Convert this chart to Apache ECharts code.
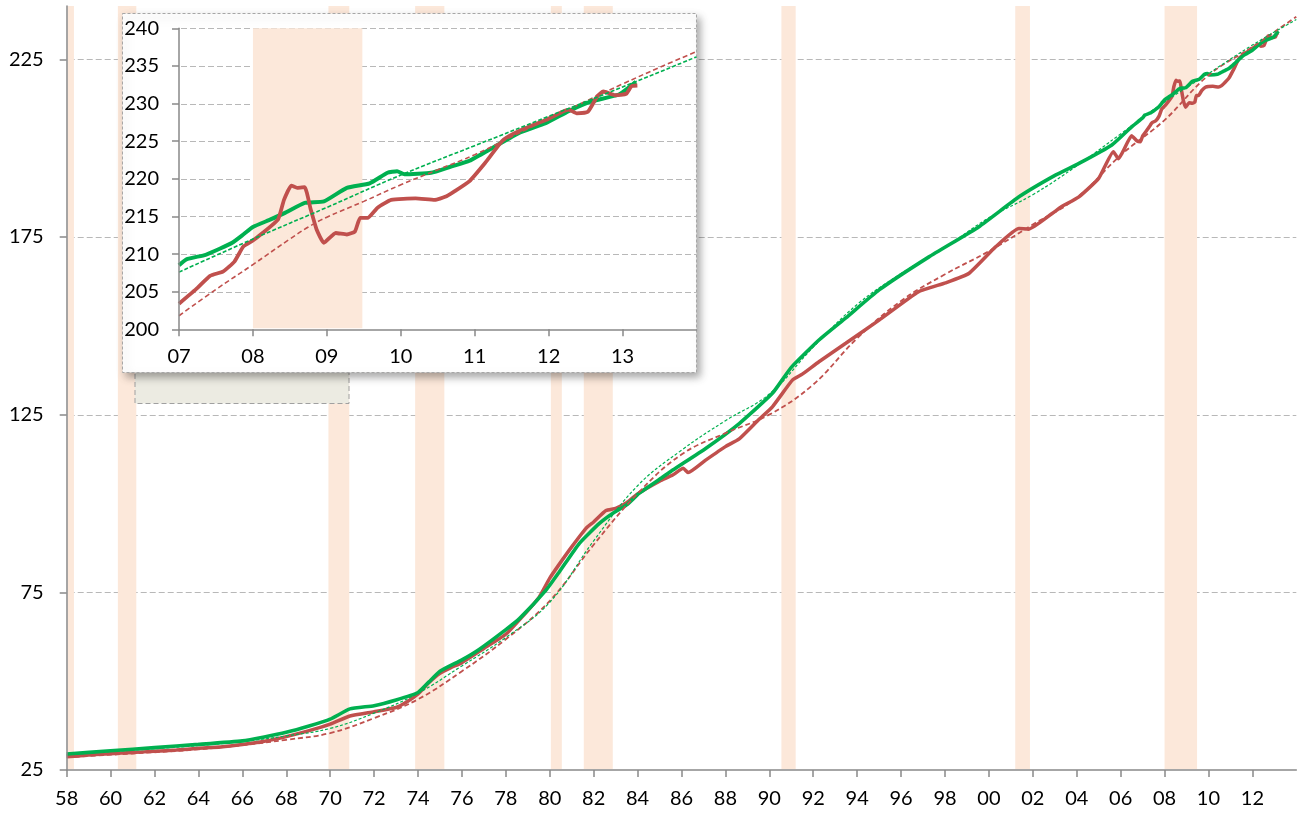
<!DOCTYPE html>
<html>
<head>
<meta charset="utf-8">
<title>CPI and core CPI</title>
<script src="https://cdn.jsdelivr.net/npm/echarts@6/dist/echarts.min.js"></script>
<style>
  html, body { margin: 0; padding: 0; background: #ffffff; }
  #chart { width: 1308px; height: 814px; }
</style>
</head>
<body>
<div id="chart"></div>
<script>
// ---- data ([year, index]) ----
var cpiEarly = [
  [1958.0, 28.7], [1959.0, 29.2], [1960.0, 29.6], [1961.0, 29.9], [1962.0, 30.3], [1963.0, 30.6],
  [1964.0, 31.1], [1965.0, 31.5], [1966.0, 32.2], [1967.0, 33.1], [1968.0, 34.4], [1969.0, 36.0],
  [1970.0, 37.9], [1970.9, 40.2], [1972.0, 41.4], [1973.0, 42.6], [1973.5, 44.2], [1974.0, 46.4],
  [1974.5, 49.6], [1975.0, 52.2], [1975.5, 53.8], [1976.0, 55.2], [1977.0, 59.2], [1978.0, 63.2],
  [1978.7, 67.8], [1979.5, 73.5], [1980.0, 79.0], [1980.5, 83.5], [1981.0, 87.8], [1981.65, 93.0],
  [1982.0, 94.8], [1982.56, 98.0], [1983.0, 98.6], [1983.5, 100.2], [1984.0, 102.7], [1985.0, 106.3],
  [1985.6, 108.0], [1986.08, 109.9], [1986.3, 108.7], [1987.1, 112.2], [1988.0, 116.0], [1988.63, 118.2],
  [1989.5, 123.5], [1990.14, 127.2], [1991.05, 134.7], [1991.5, 136.4], [1992.26, 139.9], [1993.48, 145.1],
  [1995.0, 151.6], [1996.8, 159.6], [1998.03, 162.1], [1999.1, 164.8], [2000.3, 172.2], [2001.37, 177.4],
  [2001.8, 177.2], [2002.88, 181.6], [2003.3, 183.5], [2004.1, 186.3], [2005.0, 191.5], [2005.67, 199.0],
  [2005.9, 197.0], [2006.1, 199.0], [2006.5, 203.5], [2006.75, 202.0], [2006.9, 201.8]
];
var coreEarly = [
  [1958.0, 29.5], [1960.0, 30.4], [1962.0, 31.3], [1964.0, 32.2], [1966.0, 33.2], [1967.0, 34.3],
  [1968.0, 35.6], [1969.0, 37.3], [1970.0, 39.3], [1970.9, 42.2], [1972.0, 43.1], [1973.0, 44.7],
  [1974.0, 46.8], [1974.5, 49.8], [1975.0, 52.8], [1976.0, 56.0], [1976.8, 59.0], [1978.0, 64.5],
  [1978.62, 67.6], [1979.83, 75.6], [1980.44, 80.8], [1981.35, 88.8], [1982.26, 94.4], [1982.86, 97.2],
  [1983.5, 99.6], [1984.08, 102.9], [1985.0, 106.8], [1985.6, 109.4], [1987.1, 115.5], [1988.63, 122.5],
  [1990.14, 131.0], [1991.0, 138.3], [1992.26, 146.0], [1993.5, 152.3], [1995.0, 160.1], [1997.27, 169.4],
  [1999.55, 177.9], [2001.37, 186.3], [2003.03, 192.4], [2004.1, 195.7], [2005.6, 200.9], [2006.5, 206.0]
];
var cpiRecent = [
  [2007.0, 203.4], [2007.25, 205.5], [2007.42, 207.1], [2007.6, 207.7], [2007.75, 209.0], [2007.87, 211.0],
  [2008.0, 211.8], [2008.13, 212.8], [2008.34, 214.6], [2008.42, 217.2], [2008.52, 219.1], [2008.6, 218.8],
  [2008.7, 218.9], [2008.78, 216.0], [2008.86, 213.3], [2008.96, 211.5], [2009.12, 212.8], [2009.27, 212.6],
  [2009.38, 213.0], [2009.45, 214.8], [2009.55, 214.8], [2009.69, 216.2], [2009.87, 217.2], [2010.2, 217.4],
  [2010.46, 217.2], [2010.6, 217.6], [2010.72, 218.3], [2010.93, 219.7], [2011.14, 222.1], [2011.39, 225.2],
  [2011.65, 226.6], [2011.96, 227.8], [2012.27, 229.2], [2012.38, 228.7], [2012.53, 228.9], [2012.66, 231.0],
  [2012.74, 231.6], [2012.9, 231.1], [2013.05, 231.3], [2013.12, 232.3], [2013.2, 232.4]
];
var coreRecent = [
  [2007.0, 208.5], [2007.1, 209.3], [2007.36, 209.9], [2007.55, 210.7], [2007.72, 211.5], [2007.87, 212.6],
  [2008.0, 213.6], [2008.24, 214.6], [2008.44, 215.5], [2008.7, 216.8], [2008.96, 217.0], [2009.27, 218.8],
  [2009.58, 219.4], [2009.82, 220.8], [2009.95, 221.0], [2010.05, 220.6], [2010.41, 220.8], [2010.67, 221.6],
  [2010.93, 222.4], [2011.24, 224.1], [2011.6, 226.1], [2011.96, 227.4], [2012.27, 229.0], [2012.58, 230.3],
  [2012.95, 231.2], [2013.18, 232.9]
];
// trend lines (dashed)
var trendCpi = [
  [1958, 28.6], [1960, 29.3], [1962, 30.0], [1964, 30.8], [1966, 32.0], [1968, 33.5], [1970, 35.4],
  [1972, 39.6], [1974, 44.9], [1976, 52.8], [1978, 61.8], [1980, 72.6], [1982, 88.4], [1984, 102.8],
  [1986, 113.8], [1988, 119.8], [1990, 125.0], [1992, 133.5], [1994, 146.5], [1996, 157.0], [1998, 164.5],
  [2000, 171.0], [2002, 178.5], [2004, 186.0], [2006, 198.0], [2008, 207.9], [2010, 220.5], [2012, 228.5],
  [2014, 237.0]
];
var trendCore = [
  [1958, 29.3], [1960, 30.2], [1962, 31.0], [1964, 31.9], [1966, 33.0], [1968, 34.6], [1970, 36.7],
  [1972, 41.0], [1974, 46.6], [1976, 54.3], [1978, 62.3], [1980, 72.2], [1982, 89.5], [1984, 105.0],
  [1986, 115.0], [1988, 123.3], [1990, 130.8], [1992, 144.0], [1994, 156.0], [1996, 164.7], [1998, 172.1],
  [2000, 180.4], [2002, 186.9], [2004, 195.0], [2006, 204.0], [2008, 213.0], [2010, 221.0], [2012, 229.0],
  [2014, 236.2]
];
var trendCpiRecent = [
  [2007, 201.8], [2007.5, 205.3], [2008, 208.6], [2008.5, 212.0], [2008.75, 213.6], [2009, 214.9],
  [2009.5, 217.0], [2010, 219.2], [2010.5, 221.2], [2011, 223.2], [2011.5, 225.6], [2012, 228.0],
  [2012.5, 230.3], [2013, 232.6], [2013.5, 234.8], [2014, 236.9]
];
var trendCoreRecent = [
  [2007, 207.6], [2008, 212.0], [2009, 216.2], [2010, 220.5], [2011, 224.4], [2012, 228.3],
  [2013, 232.2], [2014, 236.2]
];
// recessions (shaded), [start, end]
var recessions = [
  [1958.0, 1958.33], [1960.33, 1961.17], [1969.92, 1970.87], [1973.87, 1975.2], [1980.05, 1980.55],
  [1981.55, 1982.87], [1990.55, 1991.2], [2001.2, 2001.87], [2008.0, 2009.48]
];
// tick labels / gridlines
var mainYTicks = [25, 75, 125, 175, 225];
var mainGrid = [75, 125, 175, 225];
var insetGrid = [205, 210, 215, 220, 225, 230, 235, 240];

var RED = '#C0504D', GREEN = '#00B050', BAND = '#FCE8DA', AXIS = '#898989', GRIDC = '#B8B8B8';
var FONT = 'Lato, "Open Sans", sans-serif';

var chart = echarts.init(document.getElementById('chart'));

function yearLabel(v) {
  var y = Math.round(v) % 100;
  return (y < 10 ? '0' : '') + y;
}

function bandItem(params, api) {
  var cs = params.coordSys;
  var x0 = api.coord([api.value(0), api.value(2)])[0];
  var x1 = api.coord([api.value(1), api.value(2)])[0];
  var rect = echarts.graphic.clipRectByRect(
    { x: x0, y: cs.y, width: x1 - x0, height: cs.height - 1 },
    { x: cs.x + 1, y: cs.y, width: cs.width - 1, height: cs.height }
  );
  return rect && { type: 'rect', shape: rect, style: { fill: BAND } };
}

function gridItem(params, api) {
  var cs = params.coordSys;
  var y = Math.round(api.coord([api.value(0), api.value(1)])[1]) + 0.5;
  return {
    type: 'line',
    shape: { x1: cs.x + 2, y1: y, x2: cs.x + cs.width, y2: y },
    style: { stroke: GRIDC, lineWidth: 1.2, lineDash: [6, 3] }
  };
}

function lineSeries(name, data, color, width, xi, z, dash) {
  return {
    name: name, type: 'line', xAxisIndex: xi, yAxisIndex: xi, data: data, z: z,
    showSymbol: false, smooth: dash ? 0.4 : 0.15, silent: true,
    lineStyle: { color: color, width: width, type: dash || 'solid' }
  };
}

var option = {
  animation: false,
  backgroundColor: '#ffffff',
  textStyle: { fontFamily: FONT, color: '#000' },
  grid: [
    { left: 66.7, right: 11.7, top: 6, bottom: 44, containLabel: false, outerBoundsMode: 'none' },
    { left: 179, top: 28.3, width: 517.5, height: 301, containLabel: false, outerBoundsMode: 'none' }
  ],
  xAxis: [
    {
      type: 'value', gridIndex: 0, min: 1958, max: 2014, interval: 2, z: 4,
      axisLine: { lineStyle: { color: AXIS, width: 1.5 } },
      axisTick: { show: true, inside: false, length: 7, lineStyle: { color: AXIS, width: 1.5 } },
      axisLabel: { formatter: yearLabel, fontSize: 20, color: '#000', margin: 19, showMaxLabel: false, showMinLabel: true, hideOverlap: false },
      splitLine: { show: false }
    },
    {
      type: 'value', gridIndex: 1, min: 2007, max: 2014, interval: 1, z: 10,
      axisLine: { lineStyle: { color: AXIS, width: 1.5 } },
      axisTick: { show: true, inside: false, length: 7, lineStyle: { color: AXIS, width: 1.5 } },
      axisLabel: { formatter: yearLabel, fontSize: 20, color: '#000', margin: 17, showMaxLabel: false, showMinLabel: true, hideOverlap: false },
      splitLine: { show: false }
    }
  ],
  yAxis: [
    {
      type: 'value', gridIndex: 0, min: 25, max: 240, interval: 50, z: 4,
      axisLine: { show: true, lineStyle: { color: AXIS, width: 1.5 } },
      axisTick: { show: true, inside: false, length: 7, customValues: mainYTicks, lineStyle: { color: AXIS, width: 1.5 } },
      axisLabel: { fontSize: 20, color: '#000', margin: 23, customValues: mainYTicks, hideOverlap: false },
      splitLine: { show: false }
    },
    {
      type: 'value', gridIndex: 1, min: 200, max: 240, interval: 5, z: 10,
      axisLine: { show: true, lineStyle: { color: AXIS, width: 1.5 } },
      axisTick: { show: true, inside: false, length: 7, lineStyle: { color: AXIS, width: 1.5 } },
      axisLabel: { fontSize: 20, color: '#000', margin: 20, showMaxLabel: true, hideOverlap: false },
      splitLine: { show: false }
    }
  ],
  graphic: [
    {
      type: 'rect', z: 5, silent: true,
      shape: { x: 135, y: 360, width: 214, height: 43.5 },
      style: { fill: '#ECEBE2', stroke: '#A0A0A0', lineWidth: 1, lineDash: [5, 3] }
    },
    {
      type: 'rect', z: 6, silent: true,
      shape: { x: 122.5, y: 13.5, width: 574, height: 359 },
      style: {
        fill: '#ffffff', stroke: '#A6A6A6', lineWidth: 1, lineDash: [3, 2],
        shadowBlur: 8, shadowOffsetX: 3, shadowOffsetY: 4, shadowColor: 'rgba(0,0,0,0.35)'
      }
    }
  ],
  series: [
    // main chart
    { type: 'custom', xAxisIndex: 0, yAxisIndex: 0, z: 1, silent: true, renderItem: gridItem,
      data: mainGrid.map(function (v) { return [1958, v]; }) },
    { type: 'custom', xAxisIndex: 0, yAxisIndex: 0, z: 2, silent: true, renderItem: bandItem,
      data: recessions.map(function (r) { return [r[0], r[1], 25]; }) },
    lineSeries('CPI', cpiEarly.concat(cpiRecent), RED, 3.5, 0, 3),
    lineSeries('Core CPI', coreEarly.concat(coreRecent), GREEN, 3.6, 0, 3),
    lineSeries('CPI trend', trendCpi, RED, 1.8, 0, 3, [5, 3]),
    lineSeries('Core trend', trendCore, GREEN, 1.2, 0, 3, [3, 2]),
    // inset
    { type: 'custom', xAxisIndex: 1, yAxisIndex: 1, z: 7, silent: true, renderItem: gridItem,
      data: insetGrid.map(function (v) { return [2007, v]; }) },
    { type: 'custom', xAxisIndex: 1, yAxisIndex: 1, z: 8, silent: true, renderItem: bandItem,
      data: recessions.map(function (r) { return [r[0], r[1], 200]; }) },
    lineSeries('Core CPI', coreRecent, GREEN, 4, 1, 9),
    lineSeries('CPI', cpiRecent, RED, 3.8, 1, 9),
    lineSeries('CPI trend', trendCpiRecent, RED, 1.6, 1, 9, [5, 3]),
    lineSeries('Core trend', trendCoreRecent, GREEN, 1.6, 1, 9, [4, 2])
  ]
};

chart.setOption(option);
</script>
</body>
</html>
